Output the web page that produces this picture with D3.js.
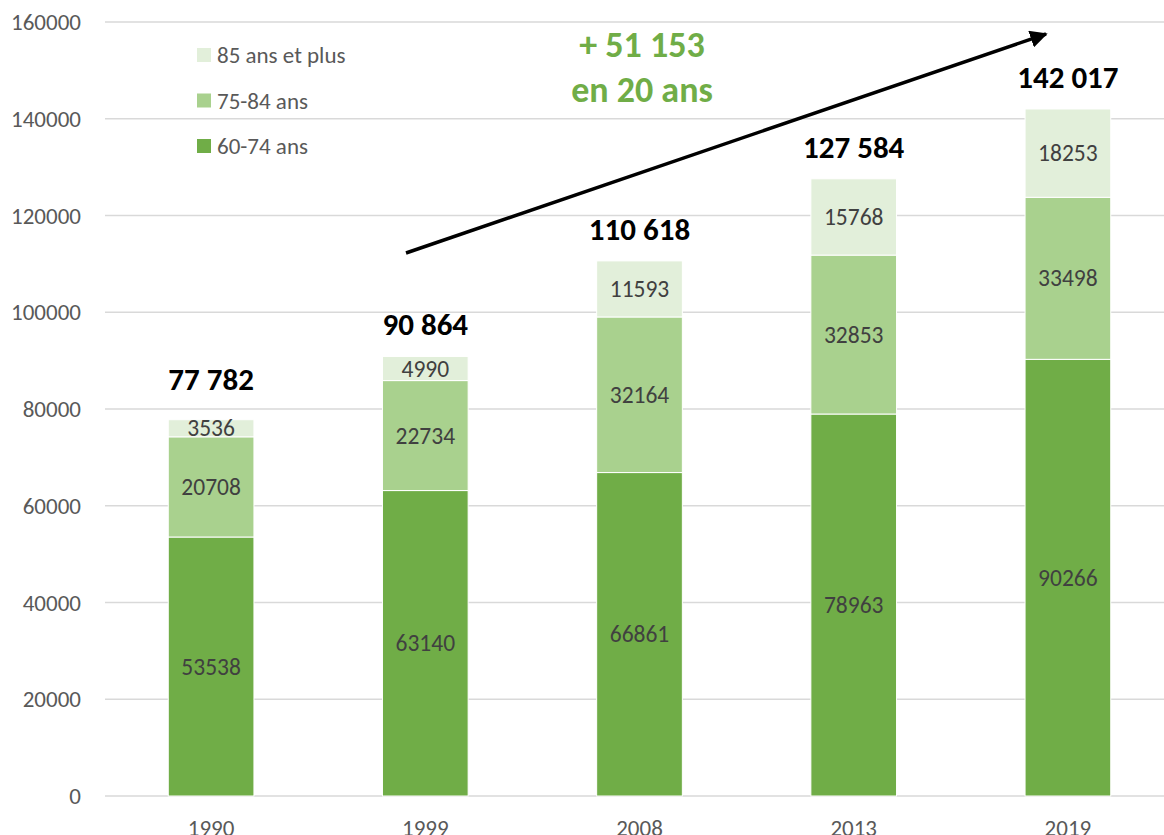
<!DOCTYPE html>
<html lang="fr">
<head>
<meta charset="utf-8">
<script src="https://cdn.jsdelivr.net/npm/d3@7"></script>
<style>
  html, body { margin: 0; padding: 0; background: #fff; overflow: hidden; }
  svg { display: block; font-family: Carlito, Calibri, Lato, "Open Sans", sans-serif; }
  .tick-label { fill: #595959; font-size: 23px; }
  .seg-label { fill: #404040; font-size: 23.5px; }
  .total-label { fill: #000; font-size: 31px; font-weight: bold; }
  .legend-label { fill: #595959; font-size: 23px; }
  .note { fill: #70ad47; font-size: 36px; font-weight: bold; }
</style>
</head>
<body>
<div id="chart"></div>
<script>
// Population des 60 ans et plus, par tranche d'âge
const YEARS = ['1990', '1999', '2008', '2013', '2019'];
const AGE_60_74 = [53538, 63140, 66861, 78963, 90266];
const AGE_75_84 = [20708, 22734, 32164, 32853, 33498];
const AGE_85_PLUS = [3536, 4990, 11593, 15768, 18253];
const TOTAL_LABELS = ['77 782', '90 864', '110 618', '127 584', '142 017'];
const Y_TICKS = [0, 20000, 40000, 60000, 80000, 100000, 120000, 140000, 160000];
const NOTE_LINES = ['+ 51 153', 'en 20 ans'];

const SERIES = [
  { key: 'a6074', label: '60-74 ans', values: AGE_60_74, color: '#70ad47' },
  { key: 'a7584', label: '75-84 ans', values: AGE_75_84, color: '#a9d18e' },
  { key: 'a85', label: '85 ans et plus', values: AGE_85_PLUS, color: '#e2efda' },
];

const W = 1164, H = 835;
const svg = d3.select('#chart').append('svg').attr('width', W).attr('height', H);

const x = d3.scaleBand().domain(YEARS).range([104, 1175]).paddingInner(0.6).paddingOuter(0.3);
const y = d3.scaleLinear().domain([0, 160000]).range([796, 22]);

// gridlines + tick labels
svg.append('g').selectAll('line').data(Y_TICKS).join('line')
  .attr('x1', 105).attr('x2', W)
  .attr('y1', (d) => y(d)).attr('y2', (d) => y(d))
  .attr('stroke', '#d9d9d9').attr('stroke-width', 1.5);

svg.append('g').selectAll('text').data(Y_TICKS).join('text')
  .attr('class', 'tick-label')
  .attr('x', 81).attr('y', (d) => y(d))
  .attr('text-anchor', 'end').attr('dominant-baseline', 'central')
  .text((d) => d);

// stacked bars
const rows = YEARS.map((year, i) => {
  const r = { year };
  SERIES.forEach((s) => { r[s.key] = s.values[i]; });
  return r;
});
const stacked = d3.stack().keys(SERIES.map((s) => s.key))(rows);

stacked.forEach((layer, li) => {
  const s = SERIES[li];
  const g = svg.append('g');
  g.selectAll('rect').data(layer).join('rect')
    .attr('x', (d) => x(d.data.year))
    .attr('width', x.bandwidth())
    .attr('y', (d) => y(d[1]))
    .attr('height', (d) => y(d[0]) - y(d[1]))
    .attr('fill', s.color)
    .attr('stroke', '#fff').attr('stroke-width', 1);
  g.selectAll('text').data(layer).join('text')
    .attr('class', 'seg-label')
    .attr('x', (d) => x(d.data.year) + x.bandwidth() / 2)
    .attr('y', (d) => (y(d[0]) + y(d[1])) / 2)
    .attr('text-anchor', 'middle').attr('dominant-baseline', 'central')
    .text((d) => d.data[s.key]);
});

// totals above bars
const topLayer = stacked[stacked.length - 1];
svg.append('g').selectAll('text').data(topLayer).join('text')
  .attr('class', 'total-label')
  .attr('x', (d) => x(d.data.year) + x.bandwidth() / 2)
  .attr('y', (d, i) => y(d[1]) - (i === 0 ? 30 : 21))
  .attr('text-anchor', 'middle')
  .text((d, i) => TOTAL_LABELS[i]);

// x labels
svg.append('g').selectAll('text').data(YEARS).join('text')
  .attr('class', 'tick-label')
  .attr('x', (d) => x(d) + x.bandwidth() / 2)
  .attr('y', 836)
  .attr('text-anchor', 'middle')
  .text((d) => d);

// legend (top-down: 85+, 75-84, 60-74)
const legend = svg.append('g');
SERIES.slice().reverse().forEach((s, i) => {
  const ly = 55 + i * 45.5;
  legend.append('rect').attr('x', 197).attr('y', ly - 7).attr('width', 14).attr('height', 14).attr('fill', s.color);
  legend.append('text').attr('class', 'legend-label')
    .attr('x', 217).attr('y', ly).attr('dominant-baseline', 'central').text(s.label);
});

// growth note + arrow
svg.append('defs').append('marker')
  .attr('id', 'arrowhead').attr('viewBox', '0 0 10 10')
  .attr('refX', 9).attr('refY', 5)
  .attr('markerWidth', 5).attr('markerHeight', 5)
  .attr('orient', 'auto')
  .append('path').attr('d', 'M0,0 L10,5 L0,10 Z').attr('fill', '#000');

svg.append('line')
  .attr('x1', 406).attr('y1', 253).attr('x2', 1046).attr('y2', 34)
  .attr('stroke', '#000').attr('stroke-width', 3.5)
  .attr('marker-end', 'url(#arrowhead)');

svg.append('g').selectAll('text').data(NOTE_LINES).join('text')
  .attr('class', 'note')
  .attr('x', 642).attr('y', (d, i) => 57 + i * 45)
  .attr('text-anchor', 'middle')
  .text((d) => d);
</script>
</body>
</html>
